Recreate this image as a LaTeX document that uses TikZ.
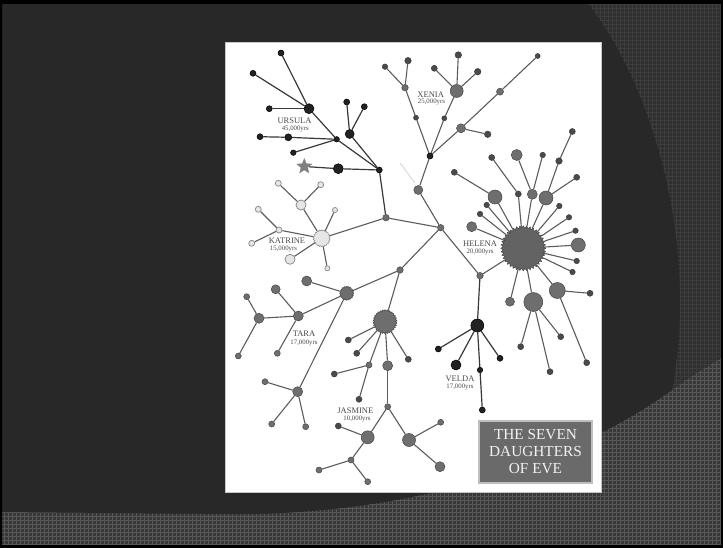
\documentclass[tikz,border=0pt]{standalone}
\usepackage{fontspec}
\setmainfont{Liberation Serif}
\usetikzlibrary{shapes.geometric}
\pgfdeclarelayer{bg}
\pgfdeclarelayer{edges}
\pgfsetlayers{bg,edges,main}

\definecolor{slide}{HTML}{282828}
\definecolor{gridbg}{HTML}{2F2F2F}
\definecolor{gridln}{HTML}{3D3D3D}
\definecolor{bandbg}{HTML}{383838}
\definecolor{bandln}{HTML}{575757}
\definecolor{cdark}{HTML}{222222}
\definecolor{cgray}{HTML}{6E6E6E}
\definecolor{cgrayedge}{HTML}{474747}
\definecolor{csmall}{HTML}{4A4A4A}
\definecolor{clight}{HTML}{E6E6E6}
\definecolor{clightedge}{HTML}{858585}
\definecolor{cline}{HTML}{5C5C5C}
\definecolor{cdline}{HTML}{383838}
\definecolor{ctext}{HTML}{4A4A4A}
\definecolor{chelena}{HTML}{636363}
\definecolor{cbox}{HTML}{6A6A6A}

\tikzset{
  nd/.style={circle, inner sep=0pt, line width=0.5pt},
  dk/.style={nd, fill=cdark, draw=black, minimum size=#1},
  gr/.style={nd, fill=cgray, draw=cgrayedge, minimum size=#1},
  sm/.style={nd, fill=csmall, draw=csmall!80!black, minimum size=#1},
  lt/.style={nd, fill=clight, draw=clightedge, line width=0.7pt, minimum size=#1},
  jag/.style={star, star points=#1, star point ratio=1.12, inner sep=0pt, line width=0.5pt},
  ln/.style={draw=cline, line width=1.1pt},
  lnd/.style={draw=cdline, line width=1.2pt},
  lbl/.style={font=\fontsize{8.5}{9}\selectfont, text=ctext, inner sep=0pt},
  yrs/.style={font=\fontsize{6.8}{7}\selectfont, text=ctext, inner sep=0pt},
  titlebox/.style={fill=cbox, draw=black!25, line width=2pt, align=center,
    minimum width=113pt, minimum height=62pt, inner sep=0pt, text=white!95!black,
    font=\fontsize{15.3}{16.7}\selectfont},
}

\begin{document}
\begin{tikzpicture}[x=1pt,y=-1pt]
\useasboundingbox (0,0) rectangle (723,548);

% ---------- slide background ----------
\begin{pgfonlayer}{bg}
  \fill[gridbg] (0,0) rectangle (723,548);
  \draw[gridln, line width=0.5pt, step=4pt] (0,0) grid (723,548);
  % lighter grid band along the bottom
  \begin{scope}
    \clip (0,512) -- (230,514) .. controls (400,515) and (560,470) .. (672,390)
          .. controls (690,377) and (705,368) .. (723,357) -- (723,548) -- (0,548) -- cycle;
    \fill[bandbg] (0,300) rectangle (723,548);
    \draw[bandln, line width=0.5pt, step=4pt] (0,300) grid (723,548);
  \end{scope}
  % dark main area
  \fill[slide] (0,0) -- (585,0) .. controls (650,80) and (700,240) .. (672,390)
        .. controls (560,470) and (400,515) .. (230,514) -- (0,512) -- cycle;
  % frame
  \fill[black, even odd rule] (0,0) rectangle (723,548) (2,4) rectangle (721,545);
  % white panel
  \fill[white] (225,42) rectangle (601,492);
  \draw[black!22, line width=0.8pt] (225,42) rectangle (601,492);
  % faint stroke
  \coordinate (fa) at (400,163);
  \coordinate (fb) at (415,183);
  \draw[red!15!black!18, line width=0.8pt] (fa) -- (fb);
\end{pgfonlayer}

% ---------- Ursula ----------
\node[dk=6]  (u1) at (281,53) {};
\node[dk=6]  (u2) at (253,73.3) {};
\node[dk=10] (uR) at (309,108.7) {};
\node[dk=6]  (u3) at (269.3,108.7) {};
\node[dk=5.5](uJ) at (336.7,139.3) {};
\node[dk=6]  (u4) at (260,136.7) {};
\node[dk=7]  (u5) at (288.3,137.3) {};
\node[dk=5.5](u6) at (293.3,152.7) {};
\node[dk=9]  (u7) at (349.7,134) {};
\node[dk=6]  (u8) at (346.7,102) {};
\node[dk=6]  (u9) at (364.3,106.7) {};
\node[star, star points=5, star point ratio=2.3, minimum size=16pt, inner sep=0pt,
      fill=black!50, draw=black!45, line width=0.3pt] (ust) at (304.3,166.5) {};
\node[dk=10] (u10) at (338.3,168.7) {};
\node[dk=6]  (j1) at (379.3,170) {};

% ---------- Xenia ----------
\node[sm=5.5] (x1) at (385,66.7) {};
\node[sm=6.5] (x2) at (408,60.7) {};
\node[gr=6.5] (x3) at (405,87.7) {};
\node[sm=5]   (x4) at (416,117.7) {};
\node[sm=6.5] (x5) at (458.3,55) {};
\node[sm=6]   (x6) at (434.3,68.3) {};
\node[sm=6.5] (x7) at (477.7,71.7) {};
\node[gr=13]  (xX) at (456.7,91) {};
\node[sm=5]   (x8) at (444.3,118.3) {};
\node[sm=5]   (x9) at (537.7,56) {};
\node[gr=7]   (x10) at (500,91.7) {};
\node[gr=9]   (x11) at (461,128.3) {};
\node[sm=6.5] (x12) at (487.7,134.3) {};
\node[dk=6]   (j4) at (430,156) {};
\node[gr=9]   (x13) at (418.3,190) {};

% ---------- trunk ----------
\node[gr=6.5] (j2) at (386,217.7) {};
\node[gr=6.5] (j3) at (440.7,227.7) {};
\node[gr=6.5] (j5) at (480,275.7) {};
\node[gr=6.5] (j6) at (400,270) {};

% ---------- Katrine ----------
\node[lt=6]  (k1) at (278.3,183.3) {};
\node[lt=6]  (k2) at (320.7,184.7) {};
\node[lt=10] (k3) at (301,205) {};
\node[lt=6]  (k4) at (258.3,209.3) {};
\node[lt=5]  (k5) at (335,210) {};
\node[lt=6]  (k6) at (279,230) {};
\node[lt=6]  (k7) at (251.7,243.3) {};
\node[jag=22, minimum size=17pt, fill=clight, draw=clightedge] (kK) at (321.7,238.3) {};
\node[lt=10] (k8) at (290,259.3) {};
\node[lt=5]  (k9) at (327.3,268.3) {};

% ---------- Tara ----------
\node[jag=20, minimum size=14pt, fill=cgray, draw=cgrayedge] (t1) at (346.7,293.3) {};
\node[gr=10] (t2) at (306.7,281) {};
\node[gr=9]  (t3) at (275.7,289.3) {};
\node[gr=6]  (t4) at (246.7,296.7) {};
\node[gr=10] (t5) at (259,318.3) {};
\node[gr=10] (tT) at (298.3,316) {};
\node[gr=6]  (t6) at (238.3,356) {};
\node[gr=6]  (t7) at (277.3,353.3) {};
\node[gr=10] (t8) at (297.7,391.7) {};
\node[gr=6]  (t9) at (265,381.7) {};
\node[gr=6]  (t10) at (271.7,424) {};
\node[gr=6]  (t11) at (305.7,426.7) {};

% ---------- Jasmine ----------
\node[jag=30, minimum size=24pt, fill=cgray, draw=cgrayedge] (jB) at (385,321.7) {};
\node[sm=6]  (m1) at (348.3,340) {};
\node[sm=6]  (m2) at (356.7,353.3) {};
\node[gr=6]  (m3) at (369,365) {};
\node[gr=10] (m4) at (387.7,365.7) {};
\node[sm=6]  (m5) at (408.3,359.3) {};
\node[sm=6]  (m6) at (334.3,374) {};
\node[sm=6]  (m7) at (359,399.3) {};
\node[gr=6]  (m8) at (387.7,406.7) {};
\node[gr=13] (mJ) at (367.7,437.3) {};
\node[gr=13] (m9) at (409,440) {};
\node[sm=6]  (m10) at (338.3,426) {};
\node[gr=6]  (m11) at (351,460) {};
\node[gr=6]  (m12) at (319,470) {};
\node[gr=6]  (m13) at (367.7,481.7) {};
\node[gr=6]  (m14) at (440.7,422.3) {};
\node[gr=10] (m15) at (440,466.7) {};

% ---------- Velda ----------
\node[dk=13] (vV) at (477.3,325.5) {};
\node[dk=6]  (v1) at (438.3,349) {};
\node[dk=10] (v2) at (456,365) {};
\node[dk=5.5](v3) at (480,370) {};
\node[dk=6]  (v4) at (482.3,410) {};
\node[dk=6]  (v5) at (500,358.3) {};

% ---------- Helena ----------
\node[jag=40, minimum size=45pt, fill=chelena, draw=cgrayedge] (hH) at (523.3,248.3) {};
\node[gr=10]  (h1) at (471.7,226.7) {};
\node[sm=5.5] (h2) at (480,214) {};
\node[sm=5.5] (h3) at (486.7,205) {};
\node[gr=14]  (h4) at (495,197) {};
\node[sm=6]   (h5) at (454.3,172.3) {};
\node[sm=6]   (h6) at (518.3,194) {};
\node[sm=6]   (h7) at (491.7,157.5) {};
\node[gr=10]  (h8) at (532.3,194.3) {};
\node[gr=11]  (h9) at (516.7,155) {};
\node[sm=5.5] (h10) at (542.7,155) {};
\node[gr=14]  (h11) at (546,198) {};
\node[sm=6.5] (h12) at (559,161) {};
\node[sm=6]   (h13) at (572.3,131.5) {};
\node[sm=6]   (h14) at (576.7,177.3) {};
\node[sm=5.5] (h15) at (559.3,206) {};
\node[sm=5.5] (h16) at (569,217.3) {};
\node[sm=5.5] (h17) at (575.5,230.7) {};
\node[gr=14]  (h18) at (578.3,245) {};
\node[sm=5.5] (h19) at (576.7,261) {};
\node[sm=5.5] (h20) at (572.5,272) {};
\node[gr=16]  (h21) at (557.3,290.5) {};
\node[sm=6]   (h22) at (590,293.3) {};
\node[sm=6]   (h23) at (586.7,362.7) {};
\node[gr=19]  (h24) at (533.3,302) {};
\node[sm=6]   (h25) at (520.7,346.7) {};
\node[sm=6]   (h26) at (550,371.7) {};
\node[sm=6]   (h27) at (560.7,336.7) {};
\node[gr=9]   (h28) at (510,301.7) {};

% ---------- connectors ----------
\begin{pgfonlayer}{edges}
  \foreach \a/\b in {u1/uR, u2/uR, u3/uR, uR/uJ, uJ/j1, u4/u5, u5/uJ, u6/uJ,
                     u7/u8, u7/u9, u7/j1, ust/u10, u10/j1, j1/j2}
    \draw[lnd] (\a) -- (\b);
  \foreach \a/\b in {x1/x3, x2/x3, x3/x4, x4/j4, xX/x5, xX/x6, xX/x7, xX/x8, x8/j4,
                     x9/x10, x10/x11, x11/j4, x11/x12, j4/x13, x13/j3,
                     j2/j3, kK/j2,
                     k1/k3, k2/k3, k3/kK, k4/k6, k6/kK, k7/k6, k5/kK, k8/kK, k9/kK,
                     j3/j6, j6/t1, t1/t2, t1/tT, tT/t3, tT/t5, t5/t4, t5/t6, tT/t7,
                     t1/t8, t8/t9, t8/t10, t8/t11,
                     j6/jB, jB/m1, jB/m2, jB/m3, jB/m4, jB/m5, m3/m6, m3/m7, m4/m8,
                     m8/mJ, m8/m9, mJ/m10, mJ/m11, m11/m12, m11/m13, m9/m14, m9/m15,
                     j3/j5, j5/hH,
                     hH/h1, hH/h2, hH/h3, hH/h4, h5/h4, hH/h6, h7/h6, hH/h8, h9/h8, h10/h8,
                     hH/h11, h13/h12, h12/h11, h14/h11, hH/h15, hH/h16, hH/h17, hH/h18,
                     hH/h19, hH/h20, hH/h21, h21/h22, h21/h23, hH/h24, h24/h25, h24/h26,
                     h24/h27, hH/h28}
    \draw[ln] (\a) -- (\b);
  \foreach \a/\b in {j5/vV, vV/v1, vV/v2, vV/v3, v3/v4, vV/v5}
    \draw[lnd] (\a) -- (\b);
\end{pgfonlayer}

% ---------- labels ----------
\node[lbl] (lu) at (294.5,121) {URSULA};
\node[yrs] (yu) at (295.3,129.3) {45,000yrs};
\node[lbl] (lx) at (430.7,94.3) {XENIA};
\node[yrs] (yx) at (431.5,101.7) {25,000yrs};
\node[lbl] (lk) at (287,241) {KATRINE};
\node[yrs] (yk) at (283.5,249) {15,000yrs};
\node[lbl] (lh) at (480,243.3) {HELENA};
\node[yrs] (yh) at (480,251.7) {20,000yrs};
\node[lbl] (lt) at (304,334) {TARA};
\node[yrs] (yt) at (304,342.5) {17,000yrs};
\node[lbl] (lj) at (355.3,410.7) {JASMINE};
\node[yrs] (yj) at (357,419) {10,000yrs};
\node[lbl] (lv) at (460,379) {VELDA};
\node[yrs] (yv) at (460,386.5) {17,000yrs};

% ---------- title ----------
\node[titlebox] (title) at (535.5,451.7) {THE SEVEN\\DAUGHTERS\\OF EVE};

\end{tikzpicture}
\end{document}
